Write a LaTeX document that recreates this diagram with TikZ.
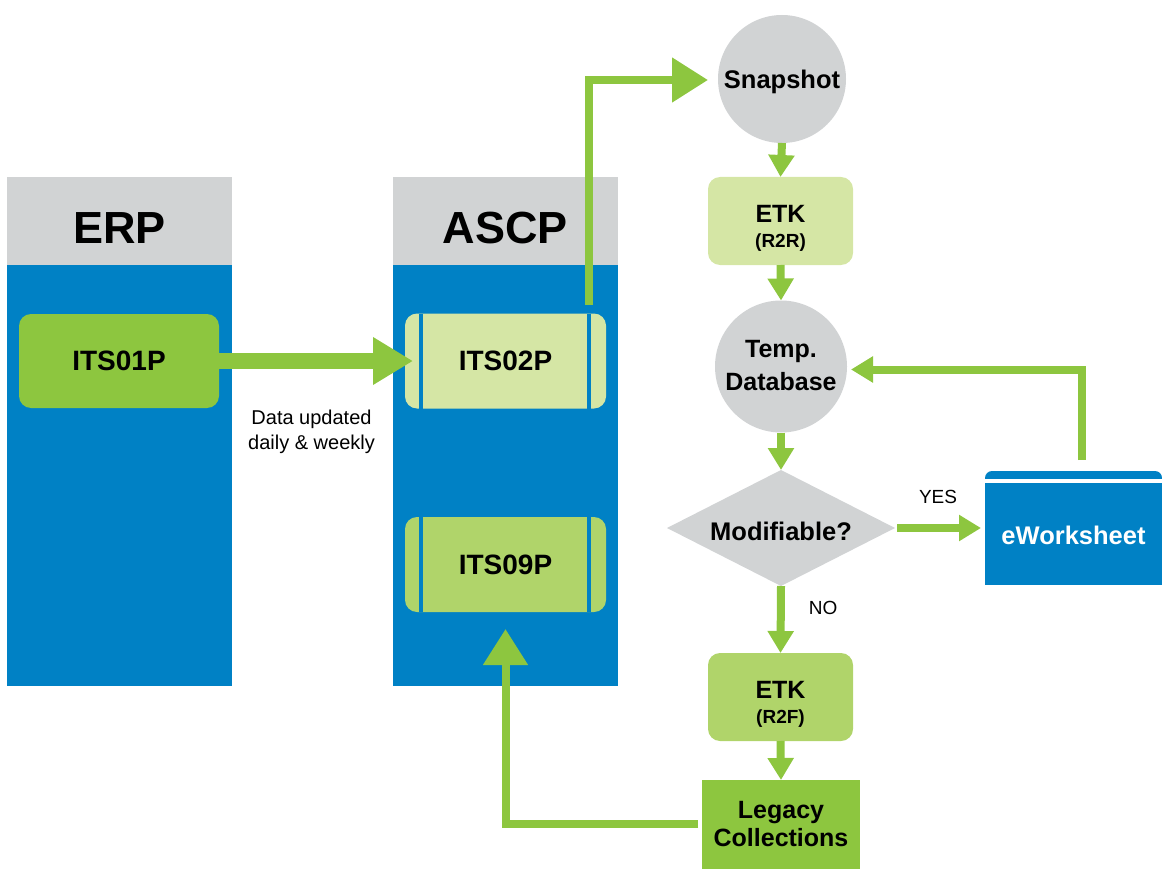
\documentclass[tikz,border=0pt]{standalone}
\usepackage{fontspec}
\setmainfont{Liberation Sans}
\usetikzlibrary{arrows.meta,shapes.geometric}
\definecolor{ablue}{RGB}{0,129,197}
\definecolor{agreen}{RGB}{141,198,63}
\definecolor{lgreen}{RGB}{213,230,165}
\definecolor{mgreen}{RGB}{176,212,106}
\definecolor{agray}{RGB}{209,211,212}
\newcommand\fsz[2]{\fontsize{#1}{#2}\selectfont}
\begin{document}
\begin{tikzpicture}[x=1pt,y=-1pt,
  every node/.style={inner sep=0pt, outer sep=0pt},
  hdr/.style={font={\fsz{45}{50}\bfseries}},
  appbox/.style={rectangle, rounded corners=12pt, minimum width=201pt, minimum height=95pt, font={\fsz{28}{30}\bfseries}},
  etkbox/.style={rectangle, rounded corners=12pt, minimum width=145pt, minimum height=88pt, align=center, font={\fsz{25}{23.5}\bfseries}},
  roundnode/.style={circle, fill=agray, minimum size=#1, align=center},
  plain/.style={font={\fsz{20}{25}}, align=center},
  lbl/.style={font={\fsz{19}{19}}, text=black},
  flowarrow/.style={draw=agreen, line width=8pt, -{Triangle[length=22pt,width=25pt]}},
  bigarrow/.style={draw=agreen, line width=8pt, -{Triangle[length=36pt,width=43pt]}},
  fatarrow/.style={draw=agreen, line width=16pt, -{Triangle[length=40pt,width=45pt]}}]
\useasboundingbox (0,0) rectangle (1162,869);

% columns
\fill[agray] (7,177) rectangle (232,265);
\fill[ablue] (7,265) rectangle (232,686);
\fill[agray] (393,177) rectangle (618,265);
\fill[ablue] (393,265) rectangle (618,686);
\node[hdr] (erp) at (119.5,228) {ERP};
\node[hdr] (ascp) at (505.5,228) {ASCP};

% application boxes
\node[appbox, fill=agreen, minimum width=200pt, minimum height=94pt] (its01) at (119,361) {ITS01P};
\node[appbox, fill=lgreen] (its02) at (505.5,361) {ITS02P};
\node[appbox, fill=mgreen] (its09) at (505.5,564.5) {ITS09P};
\foreach \b in {its02,its09}{
  \draw[ablue, line width=4pt] ([xshift=16pt]\b.north west) -- ([xshift=16pt]\b.south west);
  \draw[ablue, line width=4pt] ([xshift=-17pt]\b.north east) -- ([xshift=-17pt]\b.south east);
}
\node[plain] (note) at (311.5,432) {Data updated\\daily \& weekly};

% right flow
\node[roundnode=128pt, text depth=0pt, font={\fsz{25.5}{27}\bfseries}] (snap) at (782,79) {Snapshot};
\node[etkbox, fill=lgreen] (etk1) at (780.5,221) {\rule{0pt}{32pt}ETK\\[2pt]{\fsz{19}{19}(R2R)}};
\node[roundnode=132pt, font={\fsz{25}{33}\bfseries}] (temp) at (781,366.5) {Temp.\\Database\rule[-3pt]{0pt}{3pt}};
\node[diamond, aspect=2, fill=agray, minimum width=228pt, minimum height=116pt, text height=24.6pt, text depth=0pt, font={\fsz{25.5}{27}\bfseries}] (modi) at (781,528) {Modifiable?};
\node[etkbox, fill=mgreen] (etk2) at (780.5,697) {\rule{0pt}{32pt}ETK\\[2pt]{\fsz{19}{19}(R2F)}};
\node[rectangle, fill=agreen, minimum width=158pt, minimum height=89pt, align=center, font={\fsz{25}{28}\bfseries}] (legacy) at (781,824.5) {Legacy\\Collections};

% eWorksheet
\fill[ablue, rounded corners=7pt] (985,471) rectangle (1162,495);
\fill[white] (985,479) rectangle (1162,483);
\node[rectangle, fill=ablue, minimum width=177pt, minimum height=102pt, text=white, text height=20pt, text depth=0pt, font={\fsz{25.5}{27}\bfseries}] (ework) at (1073.5,534) {eWorksheet};

% connectors
\draw[fatarrow] (its01.east) -- ([xshift=8pt]its02.west);
\draw[bigarrow] ([xshift=-17pt,yshift=9pt]its02.north east) |- ([xshift=-10pt,yshift=-1pt]snap.west);
\draw[flowarrow] (snap.south) -- (etk1.north);
\draw[flowarrow] (etk1.south) -- (temp.north);
\draw[flowarrow] (temp.south) -- (modi.north);
\draw[flowarrow, shorten <=2pt, shorten >=4pt] (modi.east) -- (modi.east -| ework.west)
  node[pos=0.5, above=24pt, xshift=-2pt, lbl] (yes) {YES};
\draw[flowarrow] ([xshift=8.5pt,yshift=23pt]ework.north) |- ([xshift=4pt,yshift=-3pt]temp.east);
\draw[flowarrow] (modi.south) -- (etk2.north)
  node[pos=0.33, right=28pt, lbl] (no) {NO};
\draw[flowarrow] (etk2.south) -- (legacy.north);
\draw[bigarrow] ([xshift=-4pt,yshift=1pt]legacy.west) -| ([yshift=-17pt]its09.south);
\end{tikzpicture}
\end{document}
